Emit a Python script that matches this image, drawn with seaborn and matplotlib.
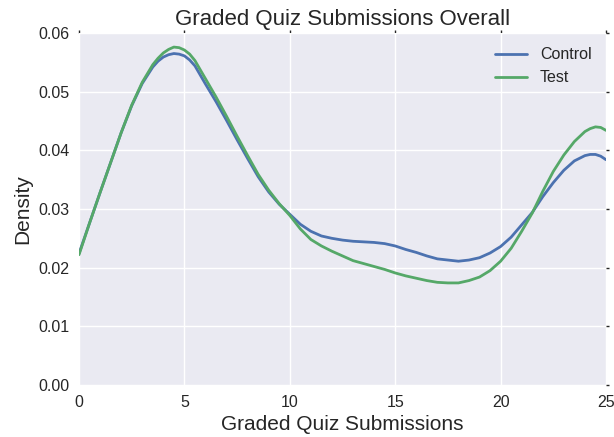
import numpy as np
import pandas as pd
import matplotlib
matplotlib.use("Agg")
import matplotlib.pyplot as plt
import seaborn as sns

x_vals = [0.0, 0.5, 1.0, 1.5, 2.0, 2.5, 3.0, 3.5, 3.75, 4.0, 4.25, 4.5, 4.75,
          5.0, 5.25, 5.5, 6.0, 6.5, 7.0, 7.5, 8.0, 8.5, 9.0, 9.5, 10.0, 10.5,
          11.0, 11.5, 12.0, 12.5, 13.0, 13.5, 14.0, 14.5, 15.0, 15.5, 16.0,
          16.5, 17.0, 17.5, 18.0, 18.5, 19.0, 19.5, 20.0, 20.5, 21.0, 21.5,
          22.0, 22.5, 23.0, 23.5, 24.0, 24.25, 24.5, 24.75, 25.0]

control = [0.0224, 0.0276, 0.0328, 0.0379, 0.0430, 0.0476, 0.0514, 0.0542,
           0.0552, 0.0559, 0.0563, 0.0565, 0.0564, 0.0561, 0.0554, 0.0544,
           0.0513, 0.0483, 0.0451, 0.0418, 0.0386, 0.0355, 0.0329, 0.0308,
           0.0291, 0.0274, 0.0262, 0.0254, 0.0250, 0.0247, 0.0245, 0.0244,
           0.0243, 0.0241, 0.0237, 0.0231, 0.0226, 0.0220, 0.0215, 0.0213,
           0.0211, 0.0213, 0.0217, 0.0225, 0.0236, 0.0252, 0.0273, 0.0294,
           0.0321, 0.0345, 0.0366, 0.0382, 0.0391, 0.0393, 0.0393, 0.0390,
           0.0384]

test = [0.0222, 0.0276, 0.0328, 0.0379, 0.0430, 0.0477, 0.0516, 0.0546,
        0.0557, 0.0566, 0.0572, 0.0576, 0.0575, 0.0571, 0.0564, 0.0553,
        0.0522, 0.0491, 0.0458, 0.0424, 0.0391, 0.0359, 0.0332, 0.0309,
        0.0289, 0.0266, 0.0248, 0.0237, 0.0228, 0.0220, 0.0212, 0.0207,
        0.0202, 0.0197, 0.0191, 0.0186, 0.0182, 0.0178, 0.0175, 0.0174,
        0.0174, 0.0178, 0.0184, 0.0195, 0.0211, 0.0233, 0.0262, 0.0293,
        0.0330, 0.0364, 0.0392, 0.0415, 0.0432, 0.0437, 0.0440, 0.0439,
        0.0434]

groups = ["Control", "Test"]
colors = ["#4C72B0", "#55A868"]

df = pd.DataFrame({
    "x": x_vals * 2,
    "density": control + test,
    "group": [groups[0]] * len(x_vals) + [groups[1]] * len(x_vals),
})

sns.set_theme(style="darkgrid")
plt.rcParams["font.family"] = ["Liberation Sans", "DejaVu Sans"]

fig = plt.figure(figsize=(6.14, 4.37), dpi=100)
ax = fig.add_axes([79 / 614, 1 - 385 / 437, (606 - 79) / 614, (385 - 33) / 437])

sns.lineplot(data=df, x="x", y="density", hue="group", palette=colors,
             linewidth=2, ax=ax)

ax.set_xlim(0, 25)
ax.set_ylim(0, 0.06)
ax.set_xticks([0, 5, 10, 15, 20, 25])
ax.set_yticks([0.00, 0.01, 0.02, 0.03, 0.04, 0.05, 0.06])
ax.set_yticklabels(["0.00", "0.01", "0.02", "0.03", "0.04", "0.05", "0.06"])
ax.tick_params(axis="both", labelsize=11.5, colors="#262626", length=2,
               width=1, direction="out", top=True, right=True,
               labeltop=False, labelright=False, pad=5)
for side in ax.spines.values():
    side.set_visible(False)

ax.set_title("Graded Quiz Submissions Overall", fontsize=16, color="#262626")
ax.set_xlabel("Graded Quiz Submissions", fontsize=15, color="#262626")
ax.set_ylabel("Density", fontsize=15, color="#262626")

leg = ax.legend(title=None, loc="upper right", frameon=False, fontsize=11.5)

fig.savefig("out.png", dpi=100)
